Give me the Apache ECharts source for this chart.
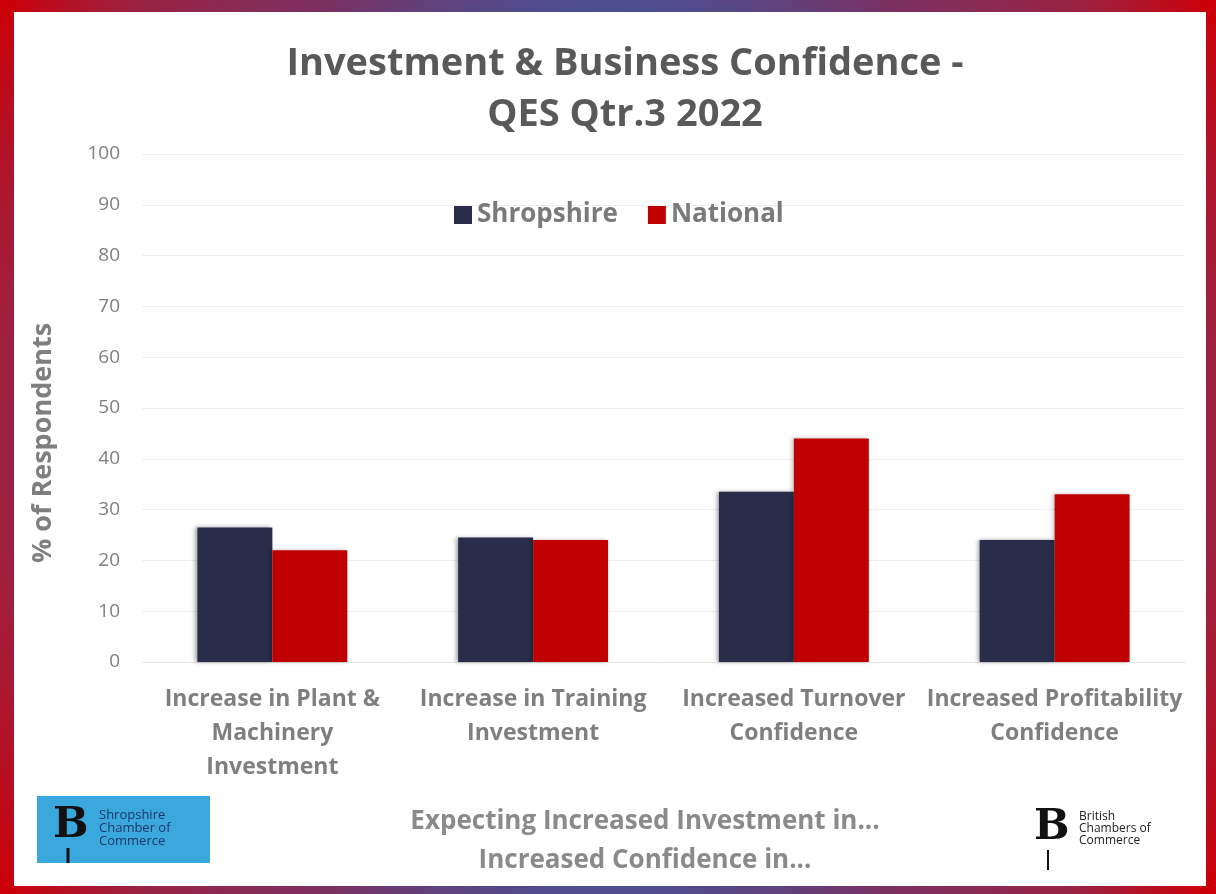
<!DOCTYPE html>
<html>
<head>
<meta charset="utf-8">
<title>Investment & Business Confidence</title>
<script src="https://cdn.jsdelivr.net/npm/echarts@6/dist/echarts.min.js"></script>
<style>
html, body {
  margin: 0;
  padding: 0;
  width: 1216px;
  height: 894px;
  overflow: hidden;
}
body {
  position: relative;
  background: radial-gradient(ellipse 62% 100% at 50% 50%, #3f58a0 45%, #7a3060 62%, #9c2242 80%, #cc0008 94%);
}
.panel {
  position: absolute;
  left: 14px;
  top: 12px;
  width: 1192px;
  height: 874px;
  background: #ffffff;
}
#chart {
  position: absolute;
  left: 0;
  top: 0;
  width: 1216px;
  height: 894px;
}
</style>
</head>
<body>
<div class="panel"></div>
<div id="chart"></div>
<script>
// data
const categories = [
  'Increase in Plant &\nMachinery\nInvestment',
  'Increase in Training\nInvestment',
  'Increased Turnover\nConfidence',
  'Increased Profitability\nConfidence'
];
const shropshire = [26.5, 24.5, 33.5, 24];
const national = [22, 24, 44, 33];
const yTicks = [0, 10, 20, 30, 40, 50, 60, 70, 80, 90, 100];

const FONT = '"Open Sans", sans-serif';
const chart = echarts.init(document.getElementById('chart'));

const option = {
  backgroundColor: 'transparent',
  textStyle: { fontFamily: FONT },
  color: ['#2a2d4a', '#c00000'],
  legend: {
    top: 197,
    left: 449,
    itemWidth: 18,
    itemHeight: 18,
    itemGap: 30,
    icon: 'rect',
    textStyle: { fontFamily: FONT, fontSize: 26, fontWeight: 'bold', color: '#7a7a7a' },
    data: ['Shropshire', 'National']
  },
  grid: { left: 142, right: 31, top: 154, bottom: 232 },
  xAxis: {
    type: 'category',
    data: categories,
    axisTick: { show: false },
    axisLine: { lineStyle: { color: '#e4e4e4', width: 1 } },
    axisLabel: {
      margin: 20,
      interval: 0,
      fontFamily: FONT,
      fontSize: 23,
      fontWeight: 'bold',
      lineHeight: 34,
      color: '#7f7f7f'
    }
  },
  yAxis: {
    type: 'value',
    min: yTicks[0],
    max: yTicks[yTicks.length - 1],
    interval: 10,
    axisLine: { show: false },
    axisTick: { show: false },
    axisLabel: { margin: 22, fontFamily: FONT, fontSize: 19, color: '#7f7f7f' },
    splitLine: { lineStyle: { color: '#eeeeee', width: 1 } }
  },
  series: [
    {
      name: 'Shropshire',
      type: 'bar',
      data: shropshire,
      barGap: '0%',
      barCategoryGap: '42.5%',
      itemStyle: { shadowColor: 'rgba(0,0,0,0.35)', shadowBlur: 4, shadowOffsetX: -2 }
    },
    {
      name: 'National',
      type: 'bar',
      data: national,
      barGap: '0%',
      barCategoryGap: '42.5%',
      itemStyle: { shadowColor: 'rgba(0,0,0,0.25)', shadowBlur: 4, shadowOffsetX: -2 }
    }
  ],
  graphic: [
    // title
    {
      type: 'text', x: 625, y: 90,
      style: {
        text: 'Investment & Business Confidence -\nQES Qtr.3 2022',
        textAlign: 'center', textVerticalAlign: 'middle',
        font: 'bold 38px ' + FONT, lineHeight: 51, fill: '#595959'
      }
    },
    // y axis caption (sits lower than the plot middle in the original)
    {
      type: 'text', x: 43, y: 443, rotation: Math.PI / 2,
      style: {
        text: '% of Respondents',
        textAlign: 'center', textVerticalAlign: 'middle',
        font: 'bold 27px ' + FONT, fill: '#7f7f7f'
      }
    },
    // x axis caption
    {
      type: 'text', x: 645, y: 841,
      style: {
        text: 'Expecting Increased Investment in...\nIncreased Confidence in...',
        textAlign: 'center', textVerticalAlign: 'middle',
        font: 'bold 26px ' + FONT, lineHeight: 39, fill: '#8a8a8a'
      }
    },
    // Shropshire Chamber logo
    { type: 'rect', shape: { x: 37, y: 796, width: 173, height: 67 }, style: { fill: '#3aa8dd' } },
    { type: 'text', x: 53, y: 826, style: { text: 'B', font: 'bold 42px "DejaVu Serif", serif', fill: '#111', textVerticalAlign: 'middle' } },
    { type: 'line', shape: { x1: 68, y1: 848, x2: 68, y2: 863 }, style: { stroke: '#111', lineWidth: 3 } },
    {
      type: 'text', x: 99, y: 828,
      style: { text: 'Shropshire\nChamber of\nCommerce', font: '13px ' + FONT, lineHeight: 13, fill: '#1d3768', textVerticalAlign: 'middle' }
    },
    // British Chambers logo
    { type: 'text', x: 1034, y: 828, style: { text: 'B', font: 'bold 42px "DejaVu Serif", serif', fill: '#111', textVerticalAlign: 'middle' } },
    { type: 'line', shape: { x1: 1048, y1: 850, x2: 1048, y2: 870 }, style: { stroke: '#111', lineWidth: 2 } },
    {
      type: 'text', x: 1079, y: 829,
      style: { text: 'British\nChambers of\nCommerce', font: '12px ' + FONT, lineHeight: 12, fill: '#222', textVerticalAlign: 'middle' }
    }
  ]
};

chart.setOption(option);
</script>
</body>
</html>
